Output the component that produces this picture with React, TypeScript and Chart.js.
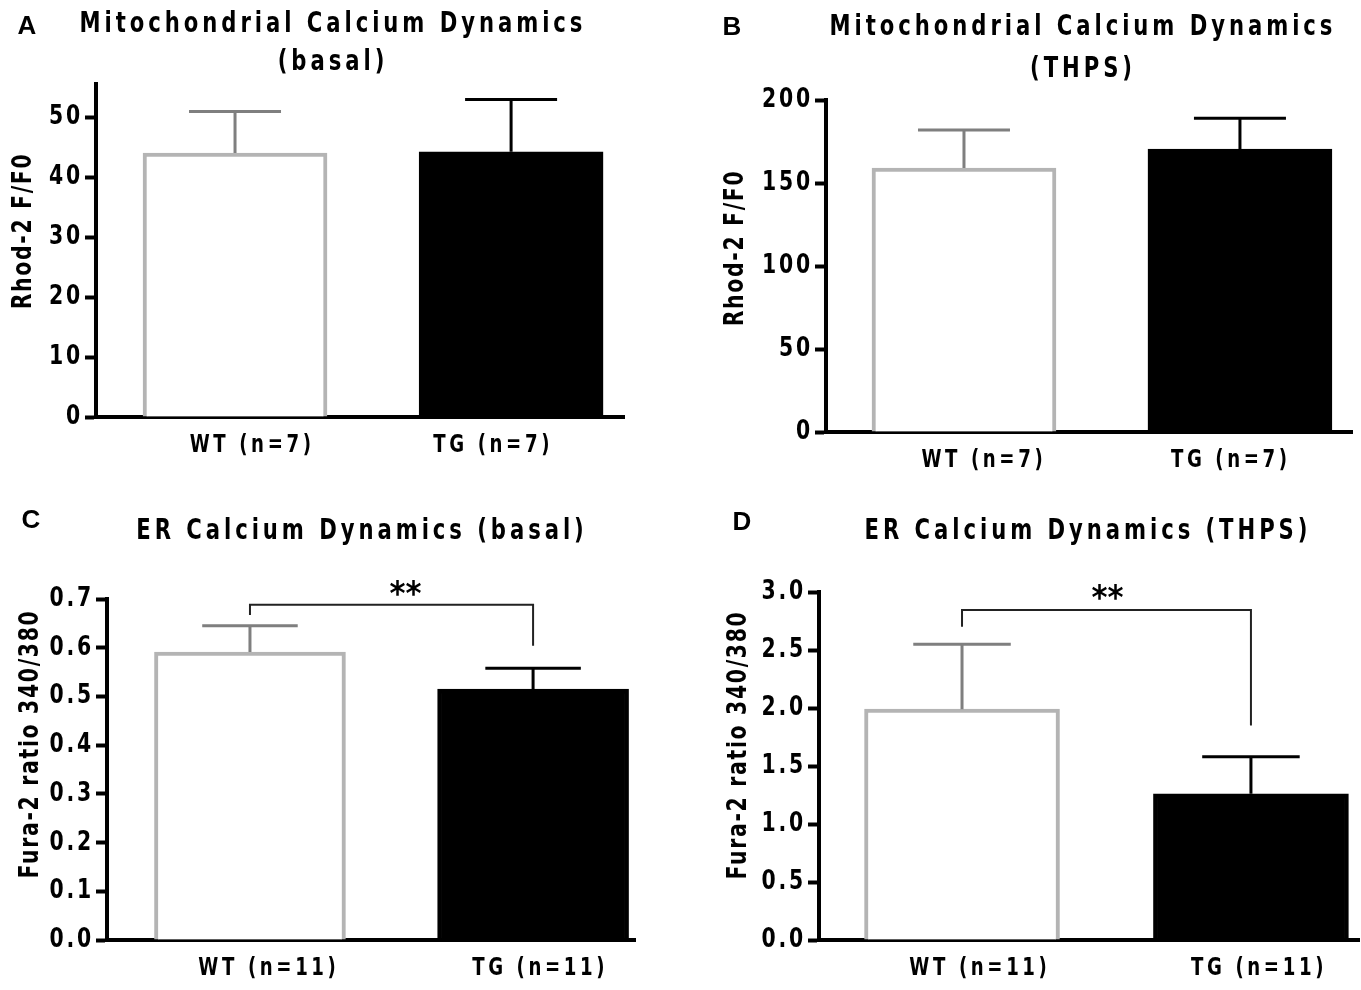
import React, { useEffect, useRef } from 'react';
import { Chart, registerables } from 'chart.js';

Chart.register(...registerables);

const FONT = "'Liberation Sans Narrow', 'DejaVu Sans Condensed', 'Arial Narrow', sans-serif";
const LETTER_FONT = "'Liberation Sans', Arial, sans-serif";
const TEXT_SX = 0.84; // horizontal squeeze of the condensed figure lettering

// ---------- Data ----------
// Panel A: Mitochondrial Calcium Dynamics (basal)
const categoriesA = ['WT (n=7)', 'TG (n=7)'];
const meansA = [44.0, 44.2];
const errorsA = [6.9, 8.7];
const yTicksA = [0, 10, 20, 30, 40, 50];

// Panel B: Mitochondrial Calcium Dynamics (THPS)
const categoriesB = ['WT (n=7)', 'TG (n=7)'];
const meansB = [159, 170.5];
const errorsB = [23, 18.5];
const yTicksB = [0, 50, 100, 150, 200];

// Panel C: ER Calcium Dynamics (basal)
const categoriesC = ['WT (n=11)', 'TG (n=11)'];
const meansC = [0.591, 0.515];
const errorsC = [0.054, 0.043];
const yTicksC = [0, 0.1, 0.2, 0.3, 0.4, 0.5, 0.6, 0.7];

// Panel D: ER Calcium Dynamics (THPS)
const categoriesD = ['WT (n=11)', 'TG (n=11)'];
const meansD = [1.99, 1.26];
const errorsD = [0.56, 0.32];
const yTicksD = [0, 0.5, 1.0, 1.5, 2.0, 2.5, 3.0];

// significance brackets (data units): [bracket level, left leg end, right leg end, label level]
const bracketC = [0.688, 0.667, 0.604, 0.72];
const bracketD = [2.845, 2.70, 1.85, 2.99];
const sigLabel = '**';

const barFill = ['#ffffff', '#000000'];
const barBorder = ['#b4b4b4', '#000000'];
const errColor = ['#7f7f7f', '#000000'];

// ---------- helpers ----------
function patchCtx(ctx: any) {
  if (ctx.__patched) return;
  const orig = ctx.fillText.bind(ctx);
  ctx.__sx = TEXT_SX;
  ctx.fillText = (text: string, x: number, y: number, maxWidth?: number) => {
    const sx = ctx.__sx;
    if (sx === 1) {
      if (maxWidth === undefined) orig(text, x, y);
      else orig(text, x, y, maxWidth);
      return;
    }
    ctx.save();
    ctx.translate(x, y);
    ctx.scale(sx, 1);
    if (maxWidth === undefined) orig(text, 0, 0);
    else orig(text, 0, 0, maxWidth / sx);
    ctx.restore();
  };
  ctx.__patched = true;
}

function wrapLabels(s: any, spacing: string) {
  if (s.__wrapped) return;
  const orig = s.drawLabels;
  s.drawLabels = function (ca: any) {
    this.ctx.letterSpacing = spacing;
    orig.call(this, ca);
  };
  s.__wrapped = true;
}

// ---------- Plugin ----------
const panelDecor = {
  id: 'panelDecor',
  beforeUpdate(chart: any) {
    patchCtx(chart.ctx);
  },
  beforeDraw(chart: any) {
    patchCtx(chart.ctx);
    chart.ctx.__sx = TEXT_SX;
  },
  afterDatasetsDraw(chart: any, _args: any, opts: any) {
    const ctx = chart.ctx;
    const ys = chart.scales.y;
    const meta = chart.getDatasetMeta(0);
    meta.data.forEach((bar: any, i: number) => {
      const v = opts.means[i];
      const e = opts.errors[i];
      const x = bar.x;
      const w = bar.width;
      const yBar = ys.getPixelForValue(v);
      const yTop = ys.getPixelForValue(v + e);
      ctx.save();
      ctx.strokeStyle = errColor[i];
      ctx.lineWidth = 3;
      ctx.beginPath();
      ctx.moveTo(x, yBar);
      ctx.lineTo(x, yTop);
      ctx.moveTo(x - w / 4, yTop);
      ctx.lineTo(x + w / 4, yTop);
      ctx.stroke();
      ctx.restore();
    });
  },
  afterDraw(chart: any, _args: any, opts: any) {
    const ctx = chart.ctx;
    ctx.save();
    ctx.fillStyle = '#000';
    ctx.textAlign = 'center';
    ctx.textBaseline = 'middle';
    // panel letter
    ctx.__sx = 1;
    ctx.letterSpacing = '0px';
    ctx.font = `bold 26px ${LETTER_FONT}`;
    ctx.fillText(opts.letter, opts.letterX, opts.letterY);
    // title lines
    ctx.__sx = TEXT_SX;
    ctx.letterSpacing = '4.7px';
    ctx.font = `bold 28px ${FONT}`;
    opts.title.forEach((t: string, i: number) => {
      ctx.fillText(t, opts.titleX, opts.titleY[i]);
    });
    // y axis title
    ctx.letterSpacing = '2px';
    ctx.font = `bold 27px ${FONT}`;
    ctx.save();
    ctx.translate(opts.yTitleX, opts.yTitleY);
    ctx.rotate(-Math.PI / 2);
    ctx.fillText(opts.yTitle, 0, 0);
    ctx.restore();
    // significance bracket
    if (opts.bracket) {
      const ys = chart.scales.y;
      const meta = chart.getDatasetMeta(0);
      const x0 = meta.data[0].x;
      const x1 = meta.data[1].x;
      const [lvl, l0, l1, lab] = opts.bracket;
      ctx.strokeStyle = '#222';
      ctx.lineWidth = 2;
      ctx.beginPath();
      ctx.moveTo(x0, ys.getPixelForValue(l0));
      ctx.lineTo(x0, ys.getPixelForValue(lvl));
      ctx.lineTo(x1, ys.getPixelForValue(lvl));
      ctx.lineTo(x1, ys.getPixelForValue(l1));
      ctx.stroke();
      ctx.__sx = 1;
      ctx.letterSpacing = '0px';
      ctx.font = `bold 34px ${FONT}`;
      ctx.fillText(sigLabel, (x0 + x1) / 2 + opts.starDx, ys.getPixelForValue(lab) + 7);
    }
    ctx.__sx = TEXT_SX;
    ctx.restore();
  },
};

type PanelCfg = {
  left: number; top: number; w: number; h: number;
  categories: string[]; means: number[]; errors: number[]; yTicks: number[]; decimals: number;
  yMax: number; xMin: number; xMax: number; barW: number; labelShift: number[];
  yW: number; xH: number; padTop: number; padRight: number; padBottom: number;
  letter: string; letterX: number; letterY: number;
  title: string[]; titleX: number; titleY: number[];
  yTitle: string; yTitleX: number; yTitleY: number;
  bracket: number[] | null; starDx: number;
};

const panels: PanelCfg[] = [
  {
    left: 0, top: 0, w: 680, h: 495,
    categories: categoriesA, means: meansA, errors: errorsA, yTicks: yTicksA, decimals: 0,
    yMax: 55.5, xMin: -0.5036, xMax: 1.409, barW: 184, labelShift: [0.062, -0.065],
    yW: 96, xH: 60, padTop: 84, padRight: 56, padBottom: 18,
    letter: 'A', letterX: 27, letterY: 27,
    title: ['Mitochondrial Calcium Dynamics', '(basal)'], titleX: 333, titleY: [25, 63],
    yTitle: 'Rhod-2 F/F0', yTitleX: 24, yTitleY: 231,
    bracket: null, starDx: 0,
  },
  {
    left: 680, top: 0, w: 681, h: 495,
    categories: categoriesB, means: meansB, errors: errorsB, yTicks: yTicksB, decimals: 0,
    yMax: 200, xMin: -0.5, xMax: 1.406, barW: 184, labelShift: [0.072, -0.033],
    yW: 146, xH: 50, padTop: 100, padRight: 9, padBottom: 13,
    letter: 'B', letterX: 52, letterY: 28,
    title: ['Mitochondrial Calcium Dynamics', '(THPS)'], titleX: 403, titleY: [28, 70],
    yTitle: 'Rhod-2 F/F0', yTitleX: 56, yTitleY: 248,
    bracket: null, starDx: 0,
  },
  {
    left: 0, top: 495, w: 680, h: 495,
    categories: categoriesC, means: meansC, errors: errorsC, yTicks: yTicksC, decimals: 1,
    yMax: 0.7, xMin: -0.505, xMax: 1.36, barW: 191, labelShift: [0.067, 0.025],
    yW: 107, xH: 45, padTop: 104, padRight: 45, padBottom: 5,
    letter: 'C', letterX: 31, letterY: 26,
    title: ['ER Calcium Dynamics (basal)'], titleX: 362, titleY: [37],
    yTitle: 'Fura-2 ratio 340/380', yTitleX: 31, yTitleY: 249,
    bracket: bracketC, starDx: 14,
  },
  {
    left: 680, top: 495, w: 681, h: 495,
    categories: categoriesD, means: meansD, errors: errorsD, yTicks: yTicksD, decimals: 1,
    yMax: 3.0, xMin: -0.495, xMax: 1.374, barW: 195, labelShift: [0.062, 0.028],
    yW: 139, xH: 45, padTop: 97, padRight: 2, padBottom: 5,
    letter: 'D', letterX: 62, letterY: 28,
    title: ['ER Calcium Dynamics (THPS)'], titleX: 408, titleY: [37],
    yTitle: 'Fura-2 ratio 340/380', yTitleX: 59, yTitleY: 250,
    bracket: bracketD, starDx: 1,
  },
];

function Panel({ cfg }: { cfg: PanelCfg }) {
  const ref = useRef<HTMLCanvasElement>(null);
  useEffect(() => {
    if (!ref.current) return;
    const chart = new Chart(ref.current, {
      type: 'bar',
      data: {
        datasets: [
          {
            data: cfg.means.map((v, i) => ({ x: i, y: v })),
            backgroundColor: barFill,
            borderColor: barBorder,
            borderWidth: 4,
            borderSkipped: 'start',
            barThickness: cfg.barW,
          } as any,
        ],
      },
      options: {
        responsive: false,
        animation: false,
        devicePixelRatio: 1,
        layout: { padding: { left: 0, top: cfg.padTop, right: cfg.padRight, bottom: cfg.padBottom } },
        plugins: {
          legend: { display: false },
          tooltip: { enabled: false },
          title: { display: false },
          panelDecor: {
            means: cfg.means, errors: cfg.errors,
            letter: cfg.letter, letterX: cfg.letterX, letterY: cfg.letterY,
            title: cfg.title, titleX: cfg.titleX, titleY: cfg.titleY,
            yTitle: cfg.yTitle, yTitleX: cfg.yTitleX, yTitleY: cfg.yTitleY,
            bracket: cfg.bracket, starDx: cfg.starDx,
          },
        } as any,
        scales: {
          x: {
            type: 'linear',
            min: cfg.xMin,
            max: cfg.xMax,
            offset: false,
            bounds: 'data',
            afterBuildTicks: (s: any) => {
              s.ticks = cfg.categories.map((_, i) => ({ value: i + cfg.labelShift[i] }));
            },
            afterFit: (s: any) => {
              s.height = cfg.xH;
              wrapLabels(s, '4.3px');
            },
            grid: { display: true, offset: false, drawOnChartArea: false, drawTicks: false },
            border: { display: true, color: '#000', width: 4 },
            ticks: {
              callback: (_v: any, i: number) => cfg.categories[i],
              font: { family: FONT, size: 24, weight: 'bold' },
              color: '#000',
              padding: 14,
              autoSkip: false,
              maxRotation: 0,
            },
          } as any,
          y: {
            type: 'linear',
            min: 0,
            max: cfg.yMax,
            bounds: 'data',
            afterBuildTicks: (s: any) => {
              s.ticks = cfg.yTicks.map((v) => ({ value: v }));
            },
            afterFit: (s: any) => {
              s.width = cfg.yW;
              wrapLabels(s, '3.3px');
            },
            grid: { display: true, drawOnChartArea: false, drawTicks: true, tickLength: 11, tickWidth: 4, tickColor: '#000' },
            border: { display: true, color: '#000', width: 4 },
            ticks: {
              callback: (v: any) => Number(v).toFixed(cfg.decimals),
              font: { family: FONT, size: 27, weight: 'bold' },
              color: '#000',
              padding: 2,
            },
          } as any,
        },
      },
      plugins: [panelDecor as any],
    });
    return () => chart.destroy();
  }, []);
  return (
    <canvas
      ref={ref}
      width={cfg.w}
      height={cfg.h}
      style={{ position: 'absolute', left: cfg.left, top: cfg.top, width: cfg.w, height: cfg.h }}
    />
  );
}

export default function App() {
  return (
    <div style={{ position: 'absolute', left: 0, top: 0, width: 1361, height: 990, background: '#fff' }}>
      {panels.map((p) => (
        <Panel key={p.letter} cfg={p} />
      ))}
    </div>
  );
}
